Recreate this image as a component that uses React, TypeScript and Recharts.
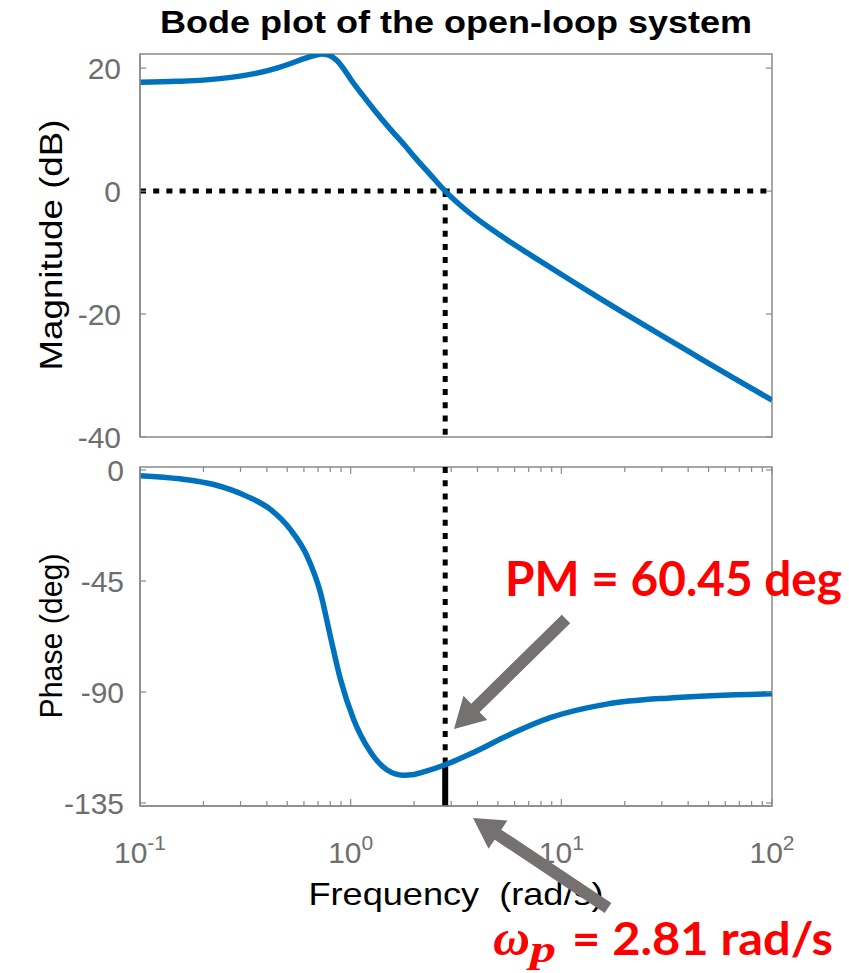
import { LineChart, Line, XAxis, YAxis, ReferenceLine, ReferenceArea } from 'recharts'

// values
const magFreq = [0.1, 0.15, 0.2, 0.27, 0.35, 0.45, 0.52, 0.6, 0.68, 0.73, 0.77, 0.82, 0.86, 0.93, 1.0, 1.14, 1.3, 1.53, 1.8, 2.05, 2.4, 2.81, 3.56, 5.13, 7.38, 10.6, 15.3, 22, 31.7, 45.6, 65.6, 100]
const magDb = [17.7, 17.85, 18.05, 18.5, 19.1, 20.05, 20.75, 21.55, 22.1, 22.3, 22.2, 21.8, 21.25, 19.8, 18.2, 15.6, 13.1, 10.2, 7.5, 5.2, 2.6, 0, -3.2, -7.2, -10.7, -14.1, -17.5, -20.75, -24.0, -27.2, -30.4, -34.0]

const phaseFreq = [0.1, 0.155, 0.224, 0.322, 0.416, 0.517, 0.621, 0.718, 0.8, 0.893, 1.03, 1.24, 1.49, 1.78, 2.0, 2.22, 2.81, 3.83, 5.51, 8.85, 16.4, 34, 100]
const phaseDeg = [-2.3, -3.6, -5.9, -10.7, -16, -24.1, -34.9, -49.6, -67.2, -84.6, -100.8, -114.2, -121.6, -123.7, -123.4, -122.4, -119.5, -114.5, -107.8, -100.4, -94.9, -92.3, -90.7]

const freqMajor = [0.1, 1, 10, 100]
const freqTicks = [0.1, 0.2, 0.3, 0.4, 0.5, 0.6, 0.7, 0.8, 0.9, 1, 2, 3, 4, 5, 6, 7, 8, 9, 10, 20, 30, 40, 50, 60, 70, 80, 90, 100]
const freqExp: Record<number, string> = { 0.1: '-1', 1: '0', 10: '1', 100: '2' }
const magTicks = [-40, -20, 0, 20]
const phaseTicks = [-135, -90, -45, 0]
const magDomain = [-40, 22.3]
const phaseDomain = [-136.2, 1.2]

const wp = 2.81
const pmPhase = -119.55

const magData = magFreq.map((w, i) => ({ w, v: magDb[i] }))
const phaseData = phaseFreq.map((w, i) => ({ w, v: phaseDeg[i] }))

const AXIS = '#8a8a8a'
const TICK_TEXT = '#6e6e6e'
const BLUE = '#0072bd'
const RED = '#ff0000'
const ARROW = '#767171'
const SANS = "'Liberation Sans', Arial, sans-serif"

const W = 849
const Y_AXIS_W = 140
const MARGIN_R = 77
const PLOT_RIGHT = W - MARGIN_R

function makeXTick(plotTop: number, showLabel: boolean) {
  return (props: any) => {
    const { x, y, payload } = props
    const major = freqMajor.includes(payload.value)
    const len = major ? 7 : 5
    return (
      <g>
        <line x1={x} x2={x} y1={y} y2={y - len} stroke={AXIS} strokeWidth={1.2} />
        <line x1={x} x2={x} y1={plotTop} y2={plotTop + len} stroke={AXIS} strokeWidth={1.2} />
        {showLabel && major && (
          <text x={x} y={y + 57} textAnchor="middle" fill={TICK_TEXT} fontFamily={SANS} fontSize={30}>
            10<tspan dy={-13} fontSize={21}>{freqExp[payload.value]}</tspan>
          </text>
        )}
      </g>
    )
  }
}

function makeYTick(gap: number) {
  return (props: any) => {
    const { x, y, payload } = props
    return (
      <g>
        <line x1={x} x2={x + 6} y1={y} y2={y} stroke={AXIS} strokeWidth={1.2} />
        <line x1={PLOT_RIGHT - 6} x2={PLOT_RIGHT} y1={y} y2={y} stroke={AXIS} strokeWidth={1.2} />
        <text x={x - gap} y={y} dy="0.36em" textAnchor="end" fill={TICK_TEXT} fontFamily={SANS} fontSize={30}>
          {payload.value}
        </text>
      </g>
    )
  }
}

function yTitle(text: string, centerY: number, length: number) {
  return () => (
    <text
      transform={`translate(62, ${centerY}) rotate(-90)`}
      textAnchor="middle"
      fill="#000"
      fontFamily={SANS}
      fontSize={31}
      textLength={length}
      lengthAdjust="spacingAndGlyphs"
    >
      {text}
    </text>
  )
}

function Arrow({ from, to, shaft = 12, headLen = 30, headW = 34 }: { from: number[]; to: number[]; shaft?: number; headLen?: number; headW?: number }) {
  const dx = to[0] - from[0]
  const dy = to[1] - from[1]
  const L = Math.hypot(dx, dy)
  const ux = dx / L
  const uy = dy / L
  const px = -uy
  const py = ux
  const bx = to[0] - ux * headLen
  const by = to[1] - uy * headLen
  const pts = [
    [from[0] + (px * shaft) / 2, from[1] + (py * shaft) / 2],
    [bx + (px * shaft) / 2, by + (py * shaft) / 2],
    [bx + (px * headW) / 2, by + (py * headW) / 2],
    [to[0], to[1]],
    [bx - (px * headW) / 2, by - (py * headW) / 2],
    [bx - (px * shaft) / 2, by - (py * shaft) / 2],
    [from[0] - (px * shaft) / 2, from[1] - (py * shaft) / 2],
  ]
  return <polygon points={pts.map(p => p.join(',')).join(' ')} fill={ARROW} />
}

// top panel: plot area y 54..437, bottom panel: y 467..806 (page coords)
const TOP_H = 465
const BOT_TOP = 440
const BOT_H = 533

export default function App() {
  return (
    <div style={{ position: 'absolute', left: 0, top: 0, width: W, height: 973, background: '#fff' }}>
      <div style={{ position: 'absolute', left: 0, top: 0 }}>
        <LineChart width={W} height={TOP_H} data={magData} margin={{ top: 54, right: MARGIN_R, bottom: TOP_H - 437, left: 0 }}>
          <XAxis
            dataKey="w"
            type="number"
            scale="log"
            domain={[0.1, 100]}
            ticks={freqTicks}
            interval={0}
            allowDataOverflow
            height={0}
            tickSize={0}
            tickMargin={0}
            axisLine={{ stroke: AXIS, strokeWidth: 1.5 }}
            tick={makeXTick(54, false)}
          />
          <YAxis
            type="number"
            domain={magDomain}
            ticks={magTicks}
            interval={0}
            allowDataOverflow
            width={Y_AXIS_W}
            tickSize={0}
            tickMargin={0}
            axisLine={{ stroke: AXIS, strokeWidth: 1.5 }}
            tick={makeYTick(19)}
            label={yTitle('Magnitude (dB)', 245, 251)}
          />
          <ReferenceArea x1={0.1} x2={100} y1={magDomain[0]} y2={magDomain[1]} fill="none" stroke={AXIS} strokeWidth={1.5} />
          <ReferenceLine y={0} stroke="#000" strokeWidth={5} strokeDasharray="6 7.2" />
          <ReferenceLine segment={[{ x: wp, y: 0 }, { x: wp, y: magDomain[0] }]} stroke="#000" strokeWidth={5} strokeDasharray="6 7.2" />
          <Line type="monotone" dataKey="v" stroke={BLUE} strokeWidth={5.5} dot={false} isAnimationActive={false} />
        </LineChart>
      </div>

      <div style={{ position: 'absolute', left: 0, top: BOT_TOP }}>
        <LineChart width={W} height={BOT_H} data={phaseData} margin={{ top: 27, right: MARGIN_R, bottom: 0, left: 0 }}>
          <XAxis
            dataKey="w"
            type="number"
            scale="log"
            domain={[0.1, 100]}
            ticks={freqTicks}
            interval={0}
            allowDataOverflow
            height={167}
            tickSize={0}
            tickMargin={0}
            axisLine={{ stroke: AXIS, strokeWidth: 1.5 }}
            tick={makeXTick(27, true)}
            label={() => (
              <text
                x={456}
                y={366 + 99}
                textAnchor="middle"
                fill="#000"
                fontFamily={SANS}
                fontSize={32}
                textLength={295}
                lengthAdjust="spacingAndGlyphs"
                style={{ whiteSpace: 'pre' }}
              >
                {'Frequency  (rad/s)'}
              </text>
            )}
          />
          <YAxis
            type="number"
            domain={phaseDomain}
            ticks={phaseTicks}
            interval={0}
            allowDataOverflow
            width={Y_AXIS_W}
            tickSize={0}
            tickMargin={0}
            axisLine={{ stroke: AXIS, strokeWidth: 1.5 }}
            tick={makeYTick(16)}
            label={yTitle('Phase (deg)', 27 + 169, 165)}
          />
          <ReferenceArea x1={0.1} x2={100} y1={phaseDomain[0]} y2={phaseDomain[1]} fill="none" stroke={AXIS} strokeWidth={1.5} />
          <ReferenceLine segment={[{ x: wp, y: phaseDomain[1] }, { x: wp, y: pmPhase }]} stroke="#000" strokeWidth={5} strokeDasharray="6 7.2" />
          <ReferenceLine segment={[{ x: wp, y: pmPhase }, { x: wp, y: phaseDomain[0] }]} stroke="#000" strokeWidth={6} />
          <Line type="monotone" dataKey="v" stroke={BLUE} strokeWidth={5.5} dot={false} isAnimationActive={false} />
        </LineChart>
      </div>

      <svg width={W} height={973} style={{ position: 'absolute', left: 0, top: 0, pointerEvents: 'none' }}>
        <text x={456} y={33} textAnchor="middle" fontFamily={SANS} fontWeight="bold" fontSize={31} textLength={592} lengthAdjust="spacingAndGlyphs" fill="#000">
          Bode plot of the open-loop system
        </text>

        <text x={505} y={596} fontFamily="Lato, 'Open Sans', sans-serif" fontWeight="bold" fontSize={48} textLength={337} lengthAdjust="spacingAndGlyphs" fill={RED}>
          PM = 60.45 deg
        </text>
        <Arrow from={[566, 619]} to={[454, 729]} />

        <Arrow from={[608, 908]} to={[473, 818]} />
        <text x={493} y={955} fontFamily="'Liberation Serif', 'DejaVu Serif', serif" fontStyle="italic" fontWeight="bold" fontSize={50} textLength={37} lengthAdjust="spacingAndGlyphs" fill={RED}>
          ω
        </text>
        <text x={530} y={962} fontFamily="'Liberation Serif', 'DejaVu Serif', serif" fontStyle="italic" fontWeight="bold" fontSize={38} textLength={26} lengthAdjust="spacingAndGlyphs" fill={RED}>
          p
        </text>
        <text x={572} y={955} fontFamily="Lato, 'Open Sans', sans-serif" fontWeight="bold" fontSize={45} textLength={261} lengthAdjust="spacingAndGlyphs" fill={RED}>
          = 2.81 rad/s
        </text>
      </svg>
    </div>
  )
}
